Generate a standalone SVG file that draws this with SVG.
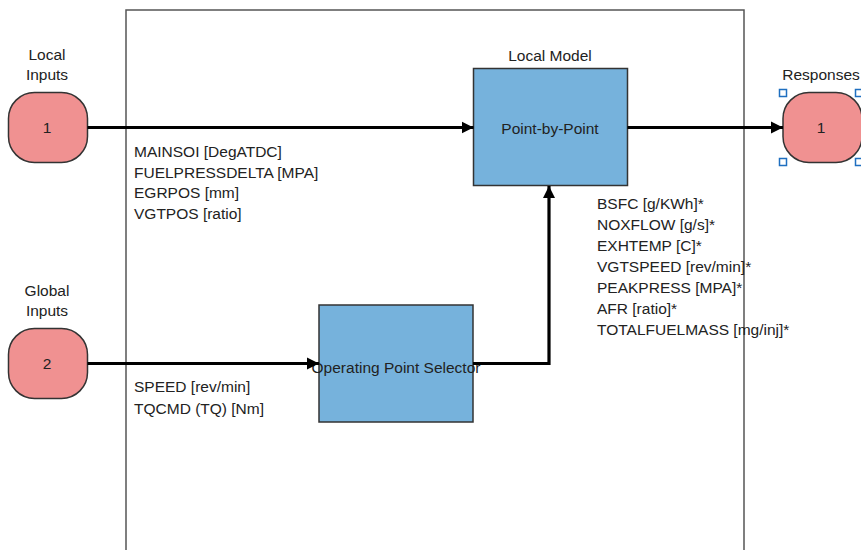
<svg xmlns="http://www.w3.org/2000/svg" width="861" height="550" viewBox="0 0 861 550">
<style>
text{font-family:"Liberation Sans",Arial,sans-serif;font-size:15.5px;fill:#222}
.c{text-anchor:middle}
.port{fill:#f09191;stroke:#333;stroke-width:1.5}
.blk{fill:#76b2dc;stroke:#333;stroke-width:1.5}
.wire{fill:none;stroke:#000;stroke-width:3.2;marker-end:url(#ah)}
.h{fill:#fff;stroke:#1f6fc0;stroke-width:1.5}
</style>
<defs>
<marker id="ah" markerUnits="userSpaceOnUse" markerWidth="14" markerHeight="14" refX="12" refY="7" orient="auto">
<path d="M0,1 L12,7 L0,13 z" fill="#000"/>
</marker>
</defs>
<rect x="0" y="0" width="861" height="550" fill="#fff"/>
<g id="subsystem">
<path d="M126,560 V10 H744 V560" fill="none" stroke="#555" stroke-width="1.5"/>
</g>
<g id="local-inputs">
<rect class="port" x="8.5" y="92.5" width="79" height="70" rx="26"/>
<text class="c" x="47" y="133">1</text>
<text class="c" x="47" y="60">Local</text>
<text class="c" x="47" y="80">Inputs</text>
</g>
<g id="global-inputs">
<rect class="port" x="8.5" y="328.5" width="79" height="70" rx="26"/>
<text class="c" x="47" y="369">2</text>
<text class="c" x="47" y="296">Global</text>
<text class="c" x="47" y="316">Inputs</text>
</g>
<g id="responses">
<rect class="port" x="783" y="92.5" width="79" height="70" rx="26"/>
<text class="c" x="821" y="133">1</text>
<text class="c" x="821" y="80">Responses</text>
<rect class="h" x="779.5" y="89.5" width="7" height="7"/>
<rect class="h" x="855.5" y="89.5" width="7" height="7"/>
<rect class="h" x="779.5" y="158.5" width="7" height="7"/>
<rect class="h" x="855.5" y="158.5" width="7" height="7"/>
</g>
<g id="point-by-point">
<rect class="blk" x="473.5" y="68.5" width="154" height="117"/>
<text class="c" x="550" y="134">Point-by-Point</text>
<text class="c" x="550" y="61">Local Model</text>
</g>
<g id="operating-point-selector">
<rect class="blk" x="319" y="305" width="154" height="117"/>
<text class="c" x="396" y="373">Operating Point Selector</text>
</g>
<g id="labels">
<text x="134" y="157">MAINSOI [DegATDC]</text>
<text x="134" y="177.5">FUELPRESSDELTA [MPA]</text>
<text x="134" y="198">EGRPOS [mm]</text>
<text x="134" y="218.5">VGTPOS [ratio]</text>
<text x="134" y="391.5">SPEED [rev/min]</text>
<text x="134" y="413.5">TQCMD (TQ) [Nm]</text>
<text x="597" y="208.5">BSFC [g/KWh]*</text>
<text x="597" y="229.5">NOXFLOW [g/s]*</text>
<text x="597" y="250.5">EXHTEMP [C]*</text>
<text x="597" y="271.5">VGTSPEED [rev/min]*</text>
<text x="597" y="292.5">PEAKPRESS [MPA]*</text>
<text x="597" y="313.5">AFR [ratio]*</text>
<text x="597" y="334.5">TOTALFUELMASS [mg/inj]*</text>
</g>
<g id="connectors">
<path class="wire" d="M87.5,127.5 H473.5"/>
<path class="wire" d="M87.5,363.5 H319"/>
<path class="wire" d="M473,363.5 H549 V186"/>
<path class="wire" d="M627.5,127.5 H783"/>
</g>
</svg>
